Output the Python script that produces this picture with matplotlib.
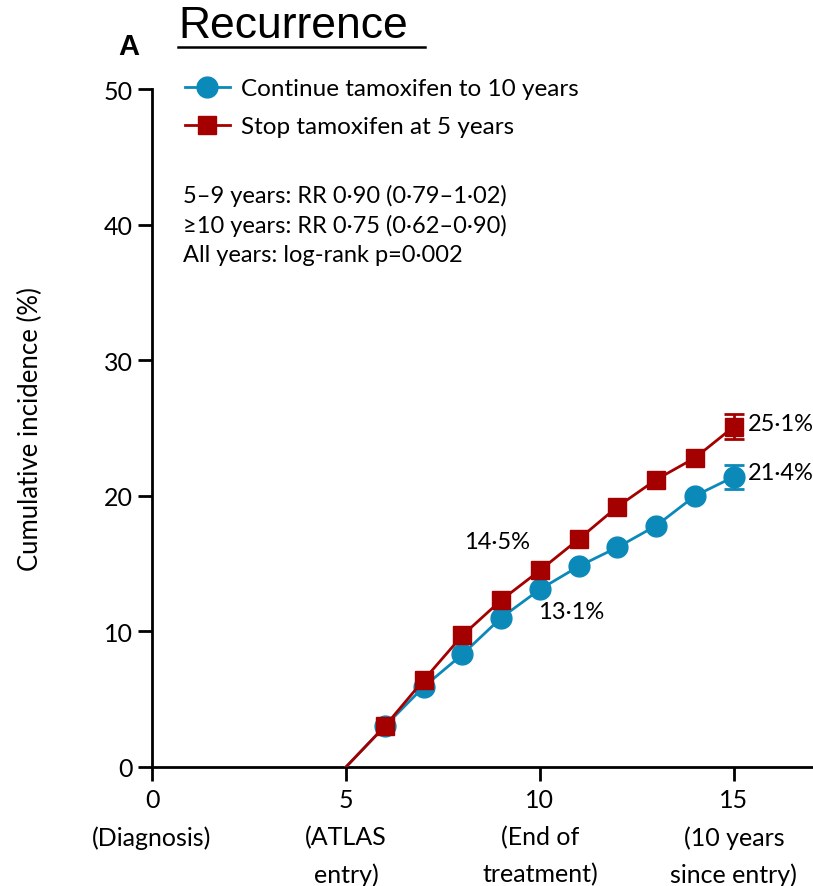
import matplotlib.pyplot as plt

# data
years = [5, 6, 7, 8, 9, 10, 11, 12, 13, 14, 15]
cont_10 = [0, 3.0, 5.9, 8.3, 11.0, 13.1, 14.8, 16.2, 17.8, 20.0, 21.4]
stop_5 = [0, 3.0, 6.4, 9.7, 12.3, 14.5, 16.8, 19.2, 21.2, 22.8, 25.1]
err_cont = 0.9
err_stop = 0.9

xticks = [0, 5, 10, 15]
xticklabels = ['0\n(Diagnosis)', '5\n(ATLAS\nentry)', '10\n(End of\ntreatment)', '15\n(10 years\nsince entry)']

blue = '#0b89b9'
red = '#a50000'

plt.rcParams['font.family'] = ['Lato', 'DejaVu Sans']

fig = plt.figure(figsize=(8.13, 8.87), dpi=100)
ax = fig.add_axes([152/813, (887-768)/887, (813-152)/813, (768-90)/887])

ax.plot(years, cont_10, color=blue, lw=2, marker='o', ms=15, markevery=list(range(1, len(years))),
        label='Continue tamoxifen to 10 years', zorder=3)
ax.plot(years, stop_5, color=red, lw=2, marker='s', ms=13, markevery=list(range(1, len(years))),
        label='Stop tamoxifen at 5 years', zorder=4)
ax.errorbar([15], [cont_10[-1]], yerr=err_cont, color=blue, capsize=7, lw=2, capthick=2, fmt='none', zorder=3)
ax.errorbar([15], [stop_5[-1]], yerr=err_stop, color=red, capsize=7, lw=2, capthick=2, fmt='none', zorder=4)

ax.set_xlim(0, 17.04)
ax.set_ylim(0, 50)
ax.set_yticks([0, 10, 20, 30, 40, 50])
ax.set_xticks(xticks)
ax.set_xticklabels(xticklabels, fontsize=18, linespacing=1.72)
ax.tick_params(axis='y', labelsize=18, length=10, width=2, pad=4)
ax.tick_params(axis='x', length=10, width=2, pad=5)
for s in ['top', 'right']:
    ax.spines[s].set_visible(False)
for s in ['left', 'bottom']:
    ax.spines[s].set_linewidth(2)
ax.set_ylabel('Cumulative incidence (%)', fontsize=18.5)
ax.yaxis.set_label_coords(-0.165, 0.5)

ax.legend(loc='upper left', bbox_to_anchor=(0.035, 1.03), frameon=False, fontsize=17.5,
          handlelength=1.85, handletextpad=0.45, labelspacing=0.7, borderaxespad=0)

ax.text(0.8, 40.0, '5–9 years: RR 0·90 (0·79–1·02)\n≥10 years: RR 0·75 (0·62–0·90)\nAll years: log-rank p=0·002',
        fontsize=17, va='center', ha='left', linespacing=1.45)

ax.text(9.75, 16.6, '14·5%', fontsize=17, ha='right', va='center')
ax.text(9.95, 11.5, '13·1%', fontsize=17, ha='left', va='center')
ax.text(15.35, stop_5[-1] + 0.2, '25·1%', fontsize=17, ha='left', va='center')
ax.text(15.35, cont_10[-1] + 0.3, '21·4%', fontsize=17, ha='left', va='center')

fig.text(178/813, 1 - 27/887, 'Recurrence', fontsize=32, family='Liberation Sans', va='center', ha='left')
fig.add_artist(plt.Line2D([178/813, 425/813], [1 - 48/887, 1 - 48/887], color='black', lw=1.8))
fig.text(118/813, 1 - 47/887, 'A', fontsize=21, weight='bold', family='Liberation Sans', va='center', ha='left')

fig.savefig('out.png', dpi=100)
